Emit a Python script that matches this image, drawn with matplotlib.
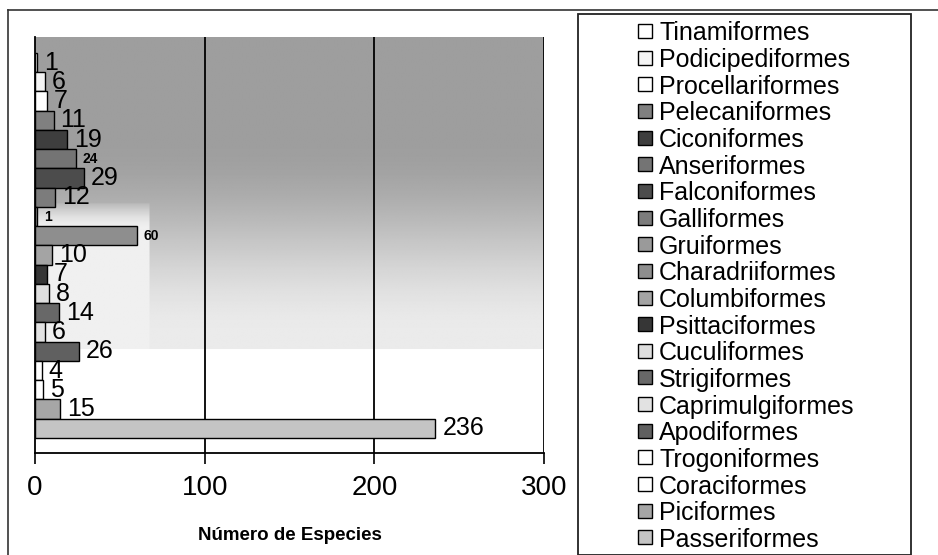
import numpy as np
import matplotlib
matplotlib.use("Agg")
import matplotlib.pyplot as plt
from matplotlib.patches import Rectangle
from matplotlib.lines import Line2D

plt.rcParams['font.family'] = ['Liberation Sans', 'DejaVu Sans']

orders = ["Tinamiformes", "Podicipediformes", "Procellariformes", "Pelecaniformes",
          "Ciconiformes", "Anseriformes", "Falconiformes", "Galliformes", "Gruiformes",
          "Charadriiformes", "Columbiformes", "Psittaciformes", "Cuculiformes",
          "Strigiformes", "Caprimulgiformes", "Apodiformes", "Trogoniformes",
          "Coraciformes", "Piciformes", "Passeriformes"]
species = [1, 6, 7, 11, 19, 24, 29, 12, 1, 60, 10, 7, 8, 14, 6, 26, 4, 5, 15, 236]
colors = ["#ffffff", "#f4f4f4", "#ffffff", "#808080", "#3e3e3e", "#747474", "#4c4c4c",
          "#7c7c7c", "#9a9a9a", "#8e8e8e", "#a4a4a4", "#363636", "#dedede", "#686868",
          "#e2e2e2", "#606060", "#ffffff", "#ffffff", "#a6a6a6", "#c4c4c4"]
label_small = [False, False, False, False, False, True, False, False, True, True,
               False, False, False, False, False, False, False, False, False, False]
x_ticks = [0, 100, 200, 300]

W, H = 938, 555
fig = plt.figure(figsize=(W / 100, H / 100), dpi=100)

# axes placement in pixels
ax_l, ax_r, ax_t, ax_b = 35, 544, 37, 453
ax = fig.add_axes([ax_l / W, 1 - ax_b / H, (ax_r - ax_l) / W, (ax_b - ax_t) / H])

# gradient background
ny, nx = 400, 400
v = np.linspace(0, 1, ny)[:, None]
u = np.linspace(0, 1, nx)[None, :]

def smooth(x, a, b):
    t = np.clip((x - a) / (b - a), 0, 1)
    return t * t * (3 - 2 * t)

g = (0.62 + 0.30 * smooth(v, 0.25, 0.72)) * np.ones_like(u)
left = (u < 0.225) & (v > 0.40)
g = np.where(left, np.maximum(g, 0.62 + 0.32 * smooth(v, 0.36, 0.46)), g)
g = np.where(v >= 0.75, 1.0, g)
ax.imshow(g, extent=[0, 1, 0, 1], transform=ax.transAxes, aspect='auto',
          cmap='gray', vmin=0, vmax=1, zorder=0, interpolation='bilinear')

ypos = np.arange(len(orders))
ax.barh(ypos, species, height=1.0, color=colors, edgecolor='black',
        linewidth=1.0, zorder=3)

for i, (val, small) in enumerate(zip(species, label_small)):
    if small:
        ax.annotate(str(val), (val, i), xytext=(5, 0), textcoords='offset points',
                    va='center', ha='left', fontsize=10, fontweight='bold', zorder=4)
    else:
        ax.annotate(str(val), (val, i), xytext=(5, 0), textcoords='offset points',
                    va='center', ha='left', fontsize=18, zorder=4)

ax.set_xlim(0, 300)
ax.set_ylim(19.5 + 0.78, -0.5 - 0.83)
ax.set_xticks(x_ticks)
ax.set_xticklabels([str(t) for t in x_ticks], fontsize=20)
ax.tick_params(axis='x', direction='out', length=8, width=1.2, pad=8)
ax.set_yticks([])
for gx in x_ticks[1:]:
    ax.axvline(gx, color='black', linewidth=1.3, zorder=2)
ax.spines['top'].set_visible(False)
ax.spines['right'].set_visible(False)
ax.spines['left'].set_linewidth(1.3)
ax.spines['bottom'].set_linewidth(1.3)
ax.set_facecolor('none')

fig.text(290 / W, 1 - 535 / H, "Número de Especies", ha='center', va='center',
         fontsize=13.5, fontweight='bold')

# outer frame lines
fig.add_artist(Line2D([8 / W, 8 / W], [0, 1 - 10 / H], transform=fig.transFigure,
                      color='#333333', linewidth=1.2))
fig.add_artist(Line2D([8 / W, 1], [1 - 10 / H, 1 - 10 / H], transform=fig.transFigure,
                      color='#333333', linewidth=1.2))

# legend box
fig.add_artist(Rectangle((578 / W, 0), (911 - 578) / W, 1 - 14 / H,
                         transform=fig.transFigure, fill=False,
                         edgecolor='#222222', linewidth=1.3))

# legend entries
row0, dy = 31, 26.65
sq = 14
for i, (name, c) in enumerate(zip(orders, colors)):
    yc = row0 + i * dy
    fig.add_artist(Rectangle((638 / W, 1 - (yc + sq / 2) / H), sq / W, sq / H,
                             transform=fig.transFigure, facecolor=c,
                             edgecolor='black', linewidth=1.0))
    fig.text(659 / W, 1 - yc / H, name, ha='left', va='center_baseline',
             fontsize=18)

fig.savefig("out.png", dpi=100)
